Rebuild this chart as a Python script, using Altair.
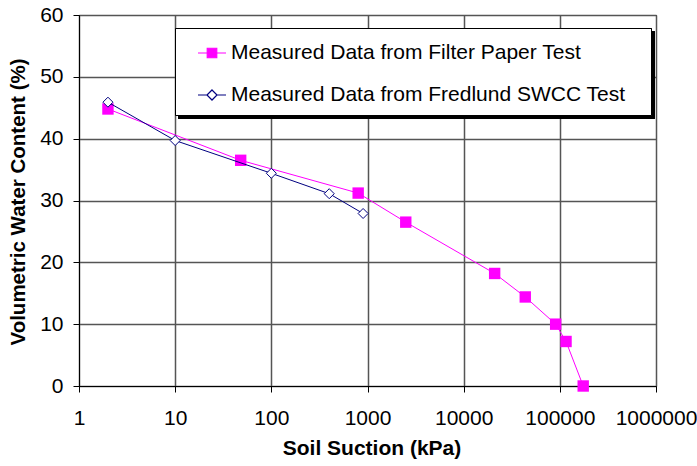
import altair as alt
import pandas as pd

# ---- data ----
filter_label = "Measured Data from Filter Paper Test"
fredlund_label = "Measured Data from Fredlund SWCC Test"

filter_suction = [2, 48, 800, 2500, 21000, 43700, 90500, 116000, 175000]
filter_vwc = [44.8, 36.5, 31.2, 26.5, 18.2, 14.4, 10.0, 7.2, 0.0]

fredlund_suction = [2, 10, 100, 400, 900]
fredlund_vwc = [45.9, 39.7, 34.4, 31.1, 27.9]

x_ticks = [1, 10, 100, 1000, 10000, 100000, 1000000]
y_ticks = [0, 10, 20, 30, 40, 50, 60]

MAGENTA = "#FF00FF"
NAVY = "#000080"
FONT = "Liberation Sans"

df = pd.DataFrame(
    {
        "suction": filter_suction + fredlund_suction,
        "vwc": filter_vwc + fredlund_vwc,
        "series": [filter_label] * len(filter_suction) + [fredlund_label] * len(fredlund_suction),
        "order": list(range(len(filter_suction))) + list(range(len(fredlund_suction))),
    }
)

W, H = 577, 371

x_enc = alt.X(
    "suction:Q",
    scale=alt.Scale(type="log", domain=[1, 1000000], nice=False),
    axis=alt.Axis(
        values=x_ticks, format="d", title="Soil Suction (kPa)",
        labelFontSize=21, labelPadding=15, labelFlush=False, labelOverlap=False,
        titleFontSize=21, titleFontWeight="bold", titleX=W / 2 + 4, titleY=62,
        titleBaseline="middle", titleAlign="center",
    ),
)
y_enc = alt.Y(
    "vwc:Q",
    scale=alt.Scale(domain=[0, 60], nice=False),
    axis=alt.Axis(
        values=y_ticks, title="Volumetric Water Content (%)",
        labelFontSize=21, labelPadding=10,
        titleFontSize=20.5, titleFontWeight="bold", titleX=-61, titleY=H / 2 + 1,
        titleBaseline="middle", titleAlign="center", titleAngle=-90,
    ),
)

base = alt.Chart(df)

fp = base.transform_filter(alt.datum.series == filter_label)
fr = base.transform_filter(alt.datum.series == fredlund_label)

fp_line = fp.mark_line(color=MAGENTA, strokeWidth=1).encode(x=x_enc, y=y_enc, order="order:Q")
fp_pts = fp.mark_point(shape="square", filled=True, color=MAGENTA, size=130, opacity=1).encode(x=x_enc, y=y_enc)
fr_line = fr.mark_line(color=NAVY, strokeWidth=1).encode(x=x_enc, y=y_enc, order="order:Q")
fr_pts = fr.mark_point(
    shape="diamond", filled=True, fill="white", stroke=NAVY, strokeWidth=1, size=100, opacity=1
).encode(x=x_enc, y=y_enc)

sq_path = "M-1,0L1,0M-0.34,-0.34L0.34,-0.34L0.34,0.34L-0.34,0.34Z"
dm_path = "M-1,0L-0.36,0M0.36,0L1,0M0,-0.36L0.36,0L0,0.36L-0.36,0Z"
dom = [filter_label, fredlund_label]

legend = alt.Legend(
    title=None, orient="none", legendX=96, legendY=13,
    padding=10, symbolOffset=12, labelOffset=4, rowPadding=17,
    symbolSize=784, symbolStrokeWidth=1.2, symbolOpacity=1,
    labelFontSize=21, labelFont=FONT, labelColor="black", labelLimit=600,
)

legend_layer = base.mark_point(opacity=0, filled=False).encode(
    x=x_enc, y=y_enc,
    stroke=alt.Stroke("series:N", scale=alt.Scale(domain=dom, range=[MAGENTA, NAVY]), legend=legend),
    fill=alt.Fill("series:N", scale=alt.Scale(domain=dom, range=[MAGENTA, "white"]), legend=legend),
    shape=alt.Shape("series:N", scale=alt.Scale(domain=dom, range=[sq_path, dm_path]), legend=legend),
)

# legend frame and its drop shadow (decoration)
shadow = base.mark_rect(color="black").encode(
    x=alt.value(99.5), x2=alt.value(575.5), y=alt.value(16.5), y2=alt.value(103.5)
)
frame = base.mark_rect(fill="white", stroke="black", strokeWidth=1).encode(
    x=alt.value(96.5), x2=alt.value(572.5), y=alt.value(13.5), y2=alt.value(100.5)
)

chart = (
    alt.layer(fp_line, fp_pts, fr_line, fr_pts, shadow, frame, legend_layer)
    .properties(
        width=W, height=H,
        autosize=alt.AutoSizeParams(type="none"),
        padding={"left": 79, "top": 15, "right": 41, "bottom": 80},
        background="white",
    )
    .configure_view(stroke="black", strokeWidth=1)
    .configure_axis(
        domainColor="black", domainWidth=1, tickColor="black", tickSize=6, tickWidth=1,
        gridColor="#555555", gridWidth=1.5, gridOpacity=1,
        labelFont=FONT, titleFont=FONT, labelColor="black", titleColor="black",
    )
)

chart.save("out.html", embed_options={"renderer": "svg", "actions": False})
